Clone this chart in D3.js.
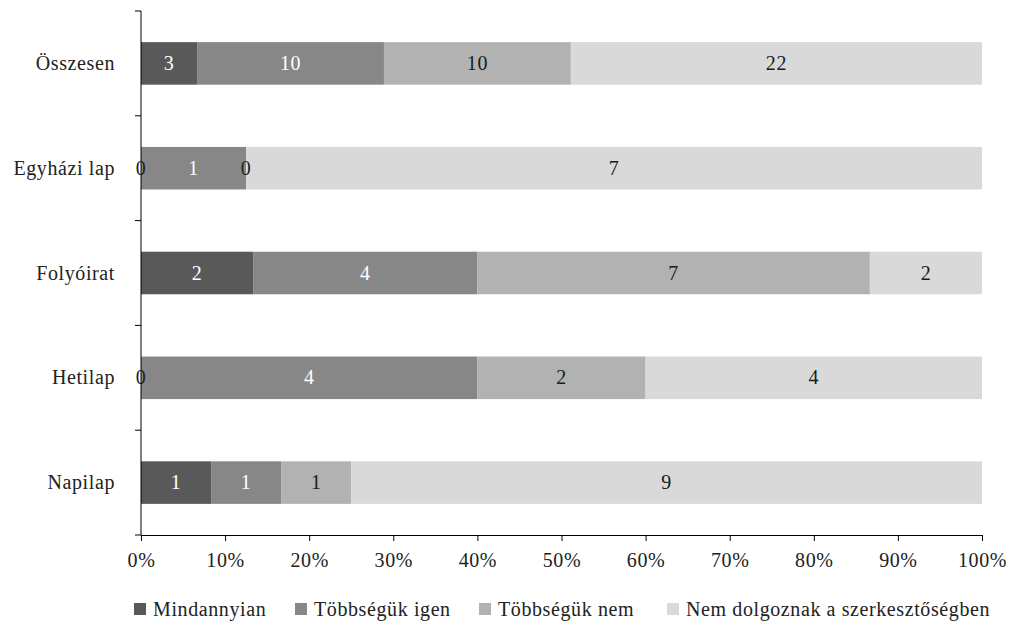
<!DOCTYPE html>
<html>
<head>
<meta charset="utf-8">
<script src="https://cdn.jsdelivr.net/npm/d3@7"></script>
<style>
  html, body { margin: 0; padding: 0; background: #fff; }
  svg text { font-family: "Liberation Serif", "Times New Roman", serif; letter-spacing: 0.6px; }
</style>
</head>
<body>
<svg id="chart" width="1009" height="621"></svg>
<script>
// Categories, top to bottom
const categories = ["Összesen", "Egyházi lap", "Folyóirat", "Hetilap", "Napilap"];
// Series names (stack order, left to right)
const seriesNames = ["Mindannyian", "Többségük igen", "Többségük nem", "Nem dolgoznak a szerkesztőségben"];
// Counts per category, one array per series
const mindannyian   = [3, 0, 2, 0, 1];
const tobbsegIgen   = [10, 1, 4, 4, 1];
const tobbsegNem    = [10, 0, 7, 2, 1];
const nemDolgoznak  = [22, 7, 2, 4, 9];
const tickLabels = ["0%", "10%", "20%", "30%", "40%", "50%", "60%", "70%", "80%", "90%", "100%"];

const colors = ["#595959", "#878787", "#b2b2b2", "#d9d9d9"];
const labelColors = ["#ffffff", "#ffffff", "#1a1a1a", "#1a1a1a"];
const FONT = "Liberation Serif, Times New Roman, serif";
const FS = 20;

const seriesValues = [mindannyian, tobbsegIgen, tobbsegNem, nemDolgoznak];
const rows = categories.map((c, i) => {
  const r = { cat: c };
  seriesNames.forEach((s, k) => r[s] = seriesValues[k][i]);
  return r;
});

const stack = d3.stack().keys(seriesNames).offset(d3.stackOffsetExpand);
const stacked = stack(rows);

const svg = d3.select("#chart");
const margin = { left: 141, right: 27, top: 11, bottom: 86 };
const W = 1009, H = 621;

const x = d3.scaleLinear().domain([0, 1]).range([margin.left, W - margin.right]);
const y = d3.scaleBand().domain(categories).range([margin.top, H - margin.bottom]).paddingInner(0.594).paddingOuter(0.297);

// Bars
const layers = svg.append("g").selectAll("g")
  .data(stacked).join("g")
  .attr("fill", (d, i) => colors[i]);

layers.selectAll("rect")
  .data(d => d.map(p => ({ p, key: d.key })))
  .join("rect")
  .attr("x", d => x(d.p[0]))
  .attr("width", d => x(d.p[1]) - x(d.p[0]))
  .attr("y", d => y(d.p.data.cat))
  .attr("height", y.bandwidth());

// Value labels
stacked.forEach((layer, k) => {
  svg.append("g").selectAll("text")
    .data(layer)
    .join("text")
    .attr("x", d => x((d[0] + d[1]) / 2))
    .attr("y", d => y(d.data.cat) + y.bandwidth() / 2)
    .attr("dy", "0.33em")
    .attr("text-anchor", "middle")
    .attr("font-family", FONT)
    .attr("font-size", FS)
    .attr("fill", d => d.data[layer.key] === 0 ? "#222" : labelColors[k])
    .text(d => d.data[layer.key]);
});

// X axis
const xAxis = d3.axisBottom(x)
  .tickValues(d3.range(0, 1.0001, 0.1))
  .tickFormat((d, i) => tickLabels[i])
  .tickSize(6).tickSizeOuter(0).tickPadding(12);
const gx = svg.append("g").attr("transform", `translate(0,${H - margin.bottom})`).call(xAxis)
  .attr("font-family", FONT);
gx.select(".domain").attr("stroke", "#000");
gx.selectAll(".tick line").attr("stroke", "#000");
gx.selectAll("text").attr("font-size", FS).attr("font-family", FONT).attr("fill", "#222");

// Y axis: line with ticks at category boundaries
const yTop = margin.top, yBot = H - margin.bottom;
const gy = svg.append("g");
gy.append("line").attr("x1", margin.left).attr("x2", margin.left).attr("y1", yTop).attr("y2", yBot).attr("stroke", "#000");
const boundaries = d3.range(categories.length + 1).map(i => yTop + i * y.step());
gy.selectAll("line.tk").data(boundaries).join("line").attr("class", "tk")
  .attr("x1", margin.left - 6).attr("x2", margin.left)
  .attr("y1", d => d).attr("y2", d => d).attr("stroke", "#000");
gy.selectAll("text").data(categories).join("text")
  .attr("x", 115)
  .attr("y", d => y(d) + y.bandwidth() / 2)
  .attr("dy", "0.33em")
  .attr("text-anchor", "end")
  .attr("font-family", FONT)
  .attr("font-size", FS)
  .attr("fill", "#222")
  .text(d => d);

// Legend
const legend = svg.append("g").attr("transform", "translate(0,609)");
const legendX = [134, 295, 479, 667];
seriesNames.forEach((s, i) => {
  const g = legend.append("g").attr("transform", `translate(${legendX[i]},0)`);
  g.append("rect").attr("x", 0).attr("y", -6).attr("width", 12).attr("height", 12).attr("fill", colors[i]);
  g.append("text").attr("x", 19).attr("y", 0).attr("dy", "0.33em")
    .attr("font-family", FONT).attr("font-size", FS).attr("fill", "#222").text(s);
});
</script>
</body>
</html>
